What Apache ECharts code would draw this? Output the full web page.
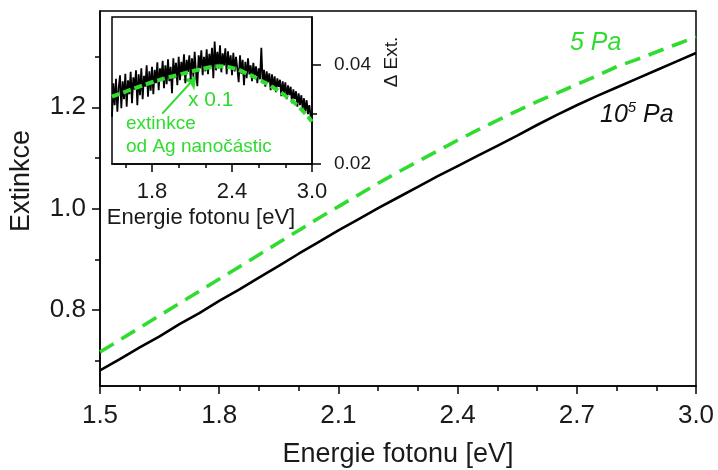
<!DOCTYPE html>
<html>
<head>
<meta charset="utf-8">
<script src="https://cdn.jsdelivr.net/npm/echarts@6/dist/echarts.min.js"></script>
<style>
  html, body { margin: 0; padding: 0; background: #fff; }
  #chart { width: 718px; height: 470px; }
</style>
</head>
<body>
<div id="chart"></div>
<script>
// Photon energy grid for the two full spectra [eV]
const energyMain = [1.50, 1.55, 1.60, 1.65, 1.70, 1.75, 1.80, 1.85, 1.90, 1.95,
                    2.00, 2.05, 2.10, 2.15, 2.20, 2.25, 2.30, 2.35, 2.40, 2.45,
                    2.50, 2.55, 2.60, 2.65, 2.70, 2.75, 2.80, 2.85, 2.90, 2.95, 3.00];
// Extinction measured at atmospheric pressure (10^5 Pa)
const extAtm = [0.681, 0.703, 0.726, 0.748, 0.772, 0.794, 0.818, 0.840, 0.864, 0.887,
                0.911, 0.934, 0.957, 0.979, 1.001, 1.022, 1.043, 1.064, 1.084, 1.104,
                1.124, 1.144, 1.165, 1.185, 1.204, 1.222, 1.239, 1.256, 1.273, 1.290, 1.307];
// Extinction measured at 5 Pa
const extVac = [0.717, 0.741, 0.765, 0.789, 0.813, 0.837, 0.861, 0.885, 0.909, 0.933,
                0.957, 0.981, 1.004, 1.027, 1.050, 1.072, 1.093, 1.114, 1.135, 1.155,
                1.174, 1.193, 1.211, 1.228, 1.245, 1.262, 1.280, 1.294, 1.309, 1.324, 1.339];

// Inset: difference spectrum (noisy), 0.01 eV steps
const energyDiff = [
  1.50, 1.51, 1.52, 1.53, 1.54, 1.55, 1.56, 1.57, 1.58, 1.59,
  1.60, 1.61, 1.62, 1.63, 1.64, 1.65, 1.66, 1.67, 1.68, 1.69,
  1.70, 1.71, 1.72, 1.73, 1.74, 1.75, 1.76, 1.77, 1.78, 1.79,
  1.80, 1.81, 1.82, 1.83, 1.84, 1.85, 1.86, 1.87, 1.88, 1.89,
  1.90, 1.91, 1.92, 1.93, 1.94, 1.95, 1.96, 1.97, 1.98, 1.99,
  2.00, 2.01, 2.02, 2.03, 2.04, 2.05, 2.06, 2.07, 2.08, 2.09,
  2.10, 2.11, 2.12, 2.13, 2.14, 2.15, 2.16, 2.17, 2.18, 2.19,
  2.20, 2.21, 2.22, 2.23, 2.24, 2.25, 2.26, 2.27, 2.28, 2.29,
  2.30, 2.31, 2.32, 2.33, 2.34, 2.35, 2.36, 2.37, 2.38, 2.39,
  2.40, 2.41, 2.42, 2.43, 2.44, 2.45, 2.46, 2.47, 2.48, 2.49,
  2.50, 2.51, 2.52, 2.53, 2.54, 2.55, 2.56, 2.57, 2.58, 2.59,
  2.60, 2.61, 2.62, 2.63, 2.64, 2.65, 2.66, 2.67, 2.68, 2.69,
  2.70, 2.71, 2.72, 2.73, 2.74, 2.75, 2.76, 2.77, 2.78, 2.79,
  2.80, 2.81, 2.82, 2.83, 2.84, 2.85, 2.86, 2.87, 2.88, 2.89,
  2.90, 2.91, 2.92, 2.93, 2.94, 2.95, 2.96, 2.97, 2.98, 2.99, 3.00];
const deltaExt = [
  0.0295, 0.0362, 0.0318, 0.0371, 0.0305, 0.0352, 0.0378, 0.0312, 0.0366, 0.0330,
  0.0381, 0.0315, 0.0368, 0.0340, 0.0385, 0.0322, 0.0374, 0.0349, 0.0388, 0.0318,
  0.0380, 0.0338, 0.0392, 0.0330, 0.0377, 0.0355, 0.0398, 0.0335, 0.0386, 0.0347,
  0.0395, 0.0340, 0.0389, 0.0362, 0.0404, 0.0348, 0.0392, 0.0370, 0.0407, 0.0352,
  0.0398, 0.0360, 0.0410, 0.0366, 0.0395, 0.0342, 0.0412, 0.0372, 0.0403, 0.0358,
  0.0415, 0.0368, 0.0405, 0.0381, 0.0420, 0.0362, 0.0409, 0.0385, 0.0418, 0.0370,
  0.0412, 0.0375, 0.0425, 0.0384, 0.0356, 0.0418, 0.0392, 0.0428, 0.0378, 0.0415,
  0.0386, 0.0430, 0.0380, 0.0421, 0.0395, 0.0433, 0.0372, 0.0446, 0.0388, 0.0425,
  0.0392, 0.0438, 0.0384, 0.0422, 0.0398, 0.0432, 0.0380, 0.0426, 0.0391, 0.0418,
  0.0378, 0.0423, 0.0386, 0.0415, 0.0392, 0.0364, 0.0418, 0.0381, 0.0409, 0.0358,
  0.0405, 0.0372, 0.0412, 0.0380, 0.0398, 0.0366, 0.0403, 0.0378, 0.0396, 0.0362,
  0.0392, 0.0370, 0.0433, 0.0362, 0.0389, 0.0355, 0.0386, 0.0364, 0.0382, 0.0348,
  0.0380, 0.0352, 0.0376, 0.0344, 0.0372, 0.0355, 0.0369, 0.0336, 0.0366, 0.0342,
  0.0364, 0.0330, 0.0358, 0.0338, 0.0355, 0.0322, 0.0350, 0.0330, 0.0346, 0.0315,
  0.0342, 0.0318, 0.0338, 0.0310, 0.0332, 0.0305, 0.0328, 0.0300, 0.0318, 0.0295, 0.0302];

// Inset: Ag nanoparticle extinction scaled by 0.1
const energyAg = [1.50, 1.60, 1.70, 1.80, 1.90, 2.00, 2.10, 2.20, 2.30, 2.40, 2.50, 2.60, 2.70, 2.80, 2.90, 3.00];
const extAgScaled = [0.0335, 0.0345, 0.0355, 0.0364, 0.0372, 0.0379, 0.0386, 0.0392, 0.0396, 0.0393,
                     0.0383, 0.0370, 0.0355, 0.0337, 0.0315, 0.0285];

// Arrow from the annotation to the scaled curve: [tail, head] as [eV, value]
const arrowTail = [1.877, 0.0301];
const arrowHead = [2.133, 0.0376];

// Tick positions
const mainXMajor = [1.5, 1.8, 2.1, 2.4, 2.7, 3.0];
const mainXMinor = [1.6, 1.7, 1.9, 2.0, 2.2, 2.3, 2.5, 2.6, 2.8, 2.9];
const mainYMajor = [0.8, 1.0, 1.2];
const mainYMinor = [0.7, 0.9, 1.1, 1.3];
const insetXMajor = [1.8, 2.4, 3.0];
const insetXMinor = [1.6, 2.0, 2.2, 2.6, 2.8];
const insetYMajor = [0.02, 0.04];
const insetYMinor = [0.03];

const FONT = '"Liberation Sans", Arial, sans-serif';
const GREEN = '#2fdc2f';
const TEXT = '#1a1a1a';

const pairs = (xs, ys) => xs.map((x, i) => [x, ys[i]]);

function valueAxis(opts) {
  return Object.assign({
    type: 'value',
    offset: 0,
    splitLine: { show: false },
    axisLine: { show: true, onZero: false, lineStyle: { color: '#000', width: 1.5 } },
    axisTick: { show: true, inside: false, length: 8, lineStyle: { color: '#000', width: 1.5 } },
    axisLabel: { show: true, color: TEXT, fontFamily: FONT }
  }, opts);
}

const chart = echarts.init(document.getElementById('chart'), null, { renderer: 'canvas' });

const option = {
  animation: false,
  backgroundColor: '#fff',
  grid: [
    { left: 100, right: 22, top: 11, bottom: 84, containLabel: false, outerBoundsMode: 'none',
      show: true, borderColor: '#000', borderWidth: 1.5, backgroundColor: 'transparent' },
    { left: 112, right: 406, top: 17, bottom: 306, containLabel: false, outerBoundsMode: 'none',
      show: true, borderColor: '#000', borderWidth: 1.5, backgroundColor: '#fff', z: 5 }
  ],
  xAxis: [
    valueAxis({
      gridIndex: 0, min: 1.5, max: 3.0, position: 'bottom',
      axisTick: { show: true, length: 8, customValues: mainXMajor, lineStyle: { color: '#000', width: 1.5 } },
      axisLabel: { customValues: mainXMajor, fontSize: 26, margin: 17, color: TEXT, fontFamily: FONT,
                   formatter: v => v.toFixed(1) },
      name: 'Energie fotonu [eV]', nameLocation: 'middle', nameGap: 55,
      nameTextStyle: { fontSize: 27, color: TEXT, fontFamily: FONT }
    }),
    valueAxis({
      gridIndex: 0, min: 1.5, max: 3.0, position: 'bottom',
      axisLine: { show: false },
      axisTick: { show: true, length: 5, customValues: mainXMinor, lineStyle: { color: '#000', width: 1.5 } },
      axisLabel: { show: false }
    }),
    valueAxis({
      gridIndex: 1, min: 1.5, max: 3.0, position: 'bottom', z: 6,
      axisTick: { show: true, length: 8, customValues: insetXMajor, lineStyle: { color: '#000', width: 1.5 } },
      axisLabel: { customValues: insetXMajor, fontSize: 22, margin: 17, color: TEXT, fontFamily: FONT,
                   formatter: v => v.toFixed(1) }
    }),
    valueAxis({
      gridIndex: 1, min: 1.5, max: 3.0, position: 'bottom', z: 6,
      axisLine: { show: false },
      axisTick: { show: true, length: 4, customValues: insetXMinor, lineStyle: { color: '#000', width: 1.5 } },
      axisLabel: { show: false }
    })
  ],
  yAxis: [
    valueAxis({
      gridIndex: 0, min: 0.65, max: 1.39, position: 'left',
      axisTick: { show: true, length: 8, customValues: mainYMajor, lineStyle: { color: '#000', width: 1.5 } },
      axisLabel: { customValues: mainYMajor, fontSize: 26, margin: 14, color: TEXT, fontFamily: FONT,
                   formatter: v => v.toFixed(1) }
    }),
    valueAxis({
      gridIndex: 0, min: 0.65, max: 1.39, position: 'left',
      axisLine: { show: false },
      axisTick: { show: true, length: 5, customValues: mainYMinor, lineStyle: { color: '#000', width: 1.5 } },
      axisLabel: { show: false }
    }),
    valueAxis({
      gridIndex: 1, min: 0.02, max: 0.0495, position: 'right', z: 6,
      axisTick: { show: true, length: 9, customValues: insetYMajor, lineStyle: { color: '#000', width: 1.5 } },
      axisLabel: { customValues: insetYMajor, fontSize: 19, margin: 22, color: TEXT, fontFamily: FONT,
                   formatter: v => v.toFixed(2) }
    }),
    valueAxis({
      gridIndex: 1, min: 0.02, max: 0.0495, position: 'right', z: 6,
      axisLine: { show: false },
      axisTick: { show: true, length: 5, customValues: insetYMinor, lineStyle: { color: '#000', width: 1.5 } },
      axisLabel: { show: false }
    })
  ],
  series: [
    {
      name: '10^5 Pa', type: 'line', xAxisIndex: 0, yAxisIndex: 0,
      data: pairs(energyMain, extAtm), showSymbol: false,
      lineStyle: { color: '#000', width: 2.6 }, z: 3
    },
    {
      name: '5 Pa', type: 'line', xAxisIndex: 0, yAxisIndex: 0,
      data: pairs(energyMain, extVac), showSymbol: false,
      lineStyle: { color: GREEN, width: 3.6, type: [16, 9] }, z: 3
    },
    {
      name: 'Delta Ext', type: 'line', xAxisIndex: 2, yAxisIndex: 2,
      data: pairs(energyDiff, deltaExt), showSymbol: false,
      lineStyle: { color: '#000', width: 1.8 }, z: 7
    },
    {
      name: 'Ag x 0.1', type: 'line', xAxisIndex: 2, yAxisIndex: 2,
      data: pairs(energyAg, extAgScaled), showSymbol: false, smooth: true,
      lineStyle: { color: GREEN, width: 4, type: [8, 4] }, z: 8,
      markLine: {
        silent: true, animation: false,
        symbol: ['none', 'arrow'], symbolSize: 12,
        label: { show: false },
        lineStyle: { color: GREEN, width: 2, type: 'solid' },
        data: [[{ coord: arrowTail }, { coord: arrowHead }]]
      }
    }
  ],
  graphic: [
    { type: 'text', x: 22, y: 181, rotation: Math.PI / 2, z: 10,
      style: { text: 'Extinkce', fill: TEXT, fontSize: 27, fontFamily: FONT, align: 'center', verticalAlign: 'middle' } },
    { type: 'text', x: 201, y: 218, z: 10,
      style: { text: 'Energie fotonu [eV]', fill: TEXT, fontSize: 22, fontFamily: FONT, align: 'center', verticalAlign: 'middle' } },
    { type: 'text', x: 392, y: 62, rotation: Math.PI / 2, z: 10,
      style: { text: 'Δ Ext.', fill: TEXT, fontSize: 19, fontFamily: FONT, align: 'center', verticalAlign: 'middle' } },
    { type: 'text', x: 188, y: 100, z: 10,
      style: { text: 'x 0.1', fill: GREEN, fontSize: 21, fontFamily: FONT, align: 'left', verticalAlign: 'middle' } },
    { type: 'text', x: 126, y: 124, z: 10,
      style: { text: 'extinkce', fill: GREEN, fontSize: 19, fontFamily: FONT, align: 'left', verticalAlign: 'middle' } },
    { type: 'text', x: 126, y: 147, z: 10,
      style: { text: 'od Ag nanočástic', fill: GREEN, fontSize: 19, fontFamily: FONT, align: 'left', verticalAlign: 'middle' } },
    { type: 'text', x: 570, y: 43, z: 10,
      style: { text: '5 Pa', fill: GREEN, fontSize: 25, fontStyle: 'italic', fontFamily: FONT, align: 'left', verticalAlign: 'middle' } },
    { type: 'text', x: 600, y: 114, z: 10,
      style: {
        text: '{b|10}{s|5}{b| Pa}', align: 'left', verticalAlign: 'middle',
        rich: {
          b: { fontSize: 25, fontStyle: 'italic', fontFamily: FONT, fill: '#111', color: '#111', verticalAlign: 'bottom', lineHeight: 28 },
          s: { fontSize: 15, fontStyle: 'italic', fontFamily: FONT, fill: '#111', color: '#111', verticalAlign: 'top', lineHeight: 28 }
        }
      } }
  ]
};

chart.setOption(option);
</script>
</body>
</html>
